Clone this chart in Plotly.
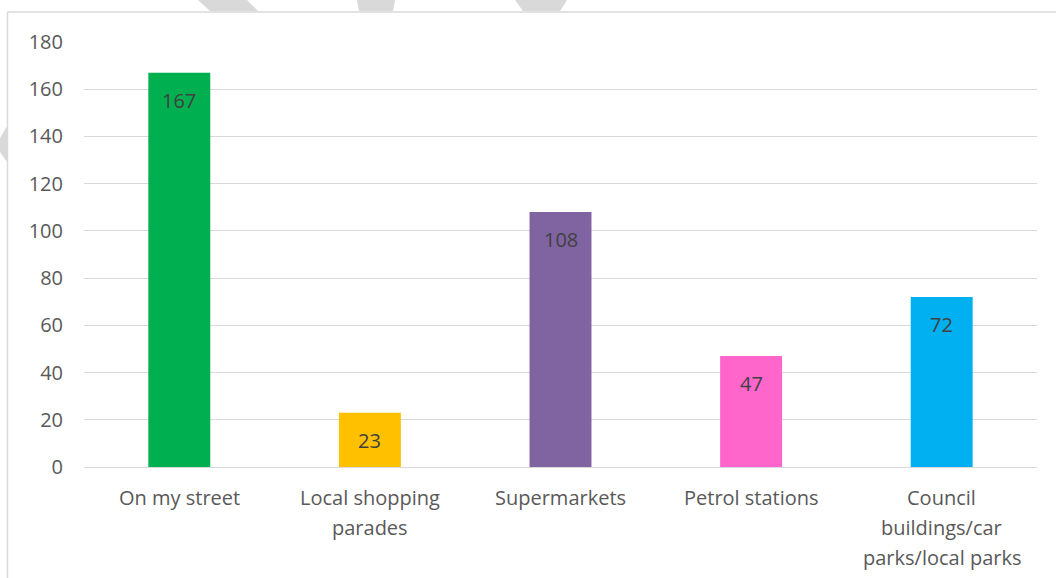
import plotly.graph_objects as go

categories = ["On my street", "Local shopping<br>parades", "Supermarkets",
              "Petrol stations", "Council<br>buildings/car<br>parks/local parks"]
values = [167, 23, 108, 47, 72]
bar_colors = ["#00B050", "#FFC000", "#8064A2", "#FF66CC", "#00B0F0"]
y_ticks = [0, 20, 40, 60, 80, 100, 120, 140, 160, 180]

W, H = 1056, 578
L, R, T, B = 84, 19, 42, 111
PW, PH = W - L - R, H - T - B


def px(x, y):
    return (x - L) / PW, (H - B - y) / PH


FONT = "Open Sans, Noto Sans, sans-serif"
FS = 20

fig = go.Figure(go.Bar(
    x=categories, y=values,
    marker=dict(color=bar_colors, line=dict(width=0)),
    hoverinfo="y",
))

# data labels inside bar tops
for c, v in zip(categories, values):
    fig.add_annotation(x=c, y=v, text=str(v), showarrow=False, xref="x", yref="y",
                       yanchor="top", yshift=-12,
                       font=dict(color="#404040", size=FS, family=FONT))

# category labels (with wider line spacing, like the original)
for c in categories:
    for i, line in enumerate(c.split("<br>")):
        fig.add_annotation(x=c, y=0, text=line, showarrow=False, xref="x", yref="y",
                           yanchor="middle", yshift=-(30 + 30 * i),
                           font=dict(color="#595959", size=FS, family=FONT))

shapes = []
# chart frame (left and top edges visible)
x0, y0 = px(7.5, 12)
x1, _ = px(W + 5, 12)
_, y1 = px(7.5, H + 5)
shapes.append(dict(type="line", xref="paper", yref="paper", x0=x0, y0=y0, x1=x1, y1=y0,
                   line=dict(color="#D9D9D9", width=1.5)))
shapes.append(dict(type="line", xref="paper", yref="paper", x0=x0, y0=y0, x1=x0, y1=y1,
                   line=dict(color="#D9D9D9", width=1.5)))

# faint watermark fragments outside the chart frame
wm_polys = [
    [(198, 0), (247, 0), (258, 11), (210, 11)],
    [(357, 0), (395, 0), (393, 11), (359, 11)],
    [(515, 0), (567, 0), (560, 11), (523, 11)],
    [(0, 138), (7, 126), (7, 162), (0, 152)],
]
for poly in wm_polys:
    pts = [px(a, b) for a, b in poly]
    path = "M " + " L ".join(f"{a},{b}" for a, b in pts) + " Z"
    shapes.append(dict(type="path", xref="paper", yref="paper", path=path,
                       fillcolor="#D9D9D9", line=dict(width=0), layer="below"))

fig.update_layout(
    width=W, height=H,
    margin=dict(l=L, r=R, t=T, b=B),
    paper_bgcolor="white", plot_bgcolor="white",
    bargap=0.675,
    showlegend=False,
    font=dict(family=FONT, color="#595959", size=FS),
    shapes=shapes,
    xaxis=dict(showgrid=False, showline=True, linecolor="#D9D9D9", linewidth=1,
               ticks="", showticklabels=False),
    yaxis=dict(range=[0, 180], tickvals=y_ticks, showgrid=True, gridcolor="#D9D9D9",
               gridwidth=1, zeroline=False, showline=False, ticks="",
               tickfont=dict(size=FS, color="#595959"), ticklabelstandoff=20),
)

fig.write_html("out.html", config={"displayModeBar": False},
               post_script="document.body.style.margin='0';document.body.style.overflow='hidden';")
